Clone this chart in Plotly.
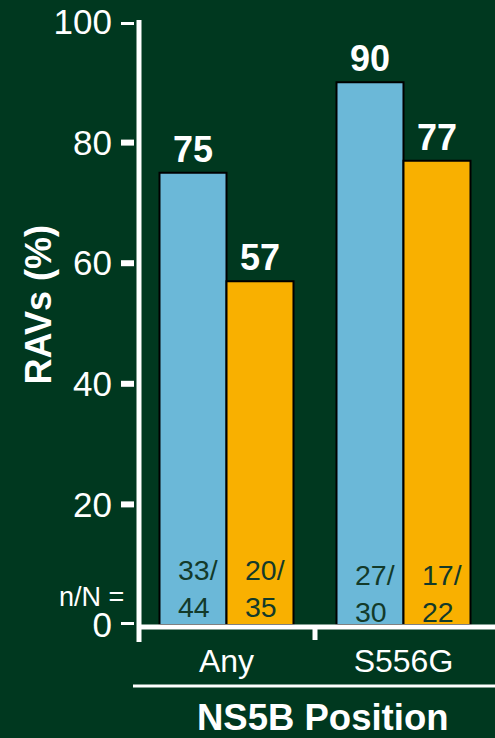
import plotly.graph_objects as go

# NS5B resistance-associated variants by position
categories = ["Any", "S556G"]
series_names = ["Group A", "Group B"]
pct_a = [75, 90]
pct_b = [57, 77]
n_a = [33, 27]
N_a = [44, 30]
n_b = [20, 17]
N_b = [35, 22]
y_ticks = [0, 20, 40, 60, 80, 100]

BG = "#00381F"
BLUE = "#6BB8D8"
ORANGE = "#F9B000"
DARK = "#133A2A"
FONT = "Liberation Sans, Arial, sans-serif"

W, H = 495, 738
L, T, B = 138, 22, 113
plot_w = W - L
x_range = [-0.5, 1.517]

fig = go.Figure()
for name, vals, col in [(series_names[0], pct_a, BLUE), (series_names[1], pct_b, ORANGE)]:
    fig.add_trace(go.Bar(
        x=categories, y=vals, name=name,
        marker=dict(color=col, line=dict(color="#000000", width=2)),
        showlegend=False, hoverinfo="skip",
    ))

annotations = []
# value labels above bars and n/N inside bars
offset = 0.19
for i, cat in enumerate(categories):
    for vals, ns, Ns, dx in [(pct_a, n_a, N_a, -offset), (pct_b, n_b, N_b, offset)]:
        annotations.append(dict(
            x=i + dx, y=vals[i], xref="x", yref="y", text=f"<b>{vals[i]}</b>",
            showarrow=False, yanchor="bottom", yshift=1,
            font=dict(size=36, color="white", family=FONT)))
        annotations.append(dict(
            x=i + dx - 0.095, y=6.0 if i == 0 else 5.2, xref="x", yref="y",
            text=f"{ns[i]}/<br>{Ns[i]}", align="left",
            showarrow=False, xanchor="left", yanchor="middle",
            font=dict(size=28.5, color=DARK, family=FONT)))

annotations += [
    dict(x=(126 - L) / plot_w, y=4.7, xref="paper", yref="y", text="n/N =",
         showarrow=False, xanchor="right", yanchor="middle",
         font=dict(size=27, color="white", family=FONT)),
    dict(x=(38 - L) / plot_w, y=53, xref="paper", yref="y", text="<b>RAVs (%)</b>",
         textangle=-90, showarrow=False, xanchor="center", yanchor="middle",
         font=dict(size=36, color="white", family=FONT)),
    dict(x=(322 - L) / plot_w, y=(H - 717 - B) / (H - T - B), xref="paper", yref="paper",
         text="<b>NS5B Position</b>", showarrow=False, xanchor="center", yanchor="middle",
         font=dict(size=36.5, color="white", family=FONT)),
]

shapes = []
px = lambda xpix: (xpix - L) / plot_w
py = lambda ypix: (H - B - ypix) / (H - T - B)
line = dict(color="white", width=5)
# y axis line and tick marks
shapes.append(dict(type="line", xref="paper", yref="paper", x0=px(139), x1=px(139),
                   y0=py(20), y1=py(642), line=line))
for t in y_ticks:
    shapes.append(dict(type="line", xref="paper", yref="y", x0=px(121), x1=px(134),
                       y0=t, y1=t, line=dict(color="white", width=6)))
# x axis line and category divider tick
shapes.append(dict(type="line", xref="paper", yref="paper", x0=px(137), x1=1,
                   y0=py(627), y1=py(627), line=line))
shapes.append(dict(type="line", xref="x", yref="paper", x0=0.5, x1=0.5,
                   y0=py(627), y1=py(640), line=line))
# separator above axis title
shapes.append(dict(type="line", xref="paper", yref="paper", x0=px(133), x1=1,
                   y0=py(686), y1=py(686), line=dict(color="white", width=3)))

fig.update_layout(
    width=W, height=H,
    margin=dict(l=L, r=0, t=T, b=B),
    paper_bgcolor=BG, plot_bgcolor=BG,
    barmode="group", bargap=0.243, bargroupgap=0,
    annotations=annotations, shapes=shapes,
    xaxis=dict(range=x_range, showgrid=False, zeroline=False, showline=False,
               ticks="", tickfont=dict(size=32, color="white", family=FONT),
               ticklabelstandoff=14),
    yaxis=dict(range=[0, 100], tickvals=y_ticks, showgrid=False, zeroline=False,
               showline=False, ticks="", ticklabelstandoff=25,
               tickfont=dict(size=35, color="white", family=FONT)),
)

fig.write_html("out.html")
